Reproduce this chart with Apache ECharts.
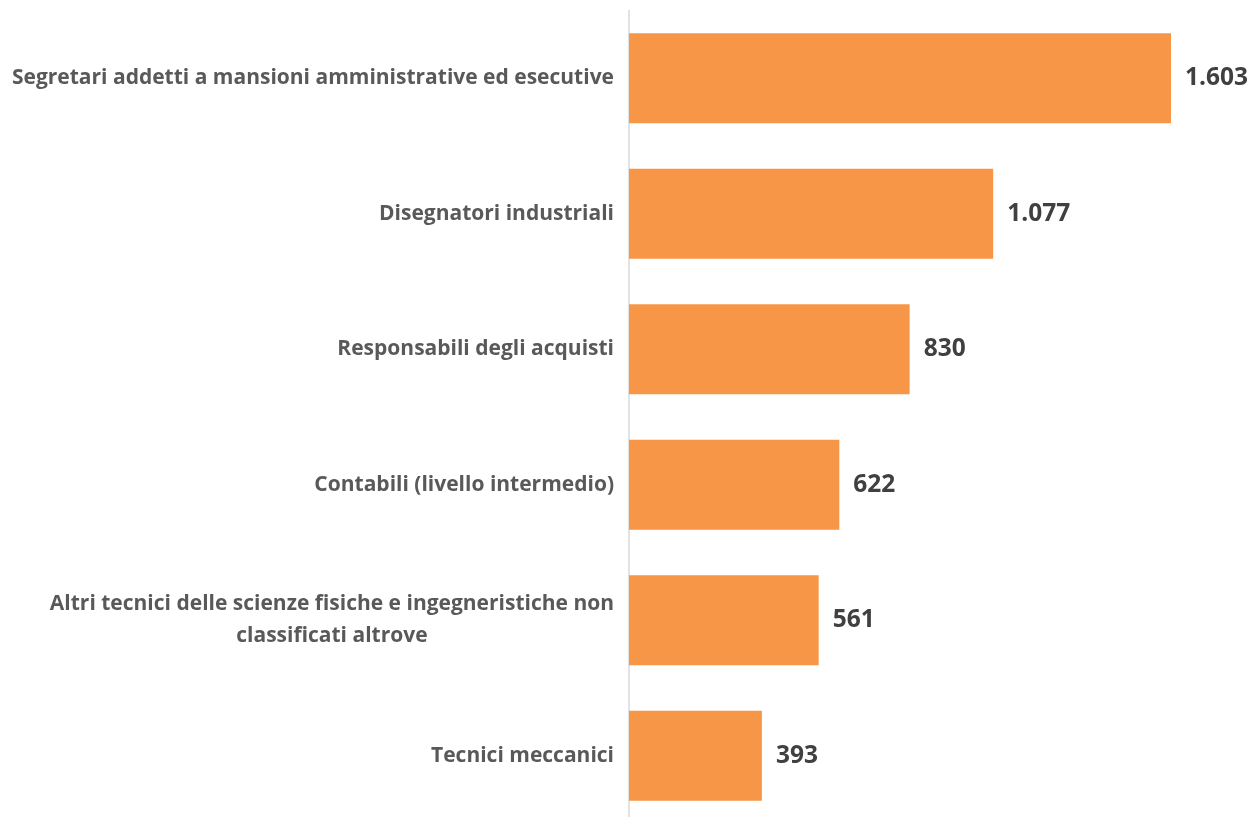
<!DOCTYPE html>
<html>
<head>
<meta charset="utf-8">
<script src="https://cdn.jsdelivr.net/npm/echarts@6/dist/echarts.min.js"></script>
<style>
html,body{margin:0;padding:0;background:#fff;overflow:hidden;}
#chart{width:1250px;height:830px;}
</style>
</head>
<body>
<div id="chart"></div>
<script>
const categories = [
  "Segretari addetti a mansioni amministrative ed esecutive",
  "Disegnatori industriali",
  "Responsabili degli acquisti",
  "Contabili (livello intermedio)",
  "Altri tecnici delle scienze fisiche e ingegneristiche non\nclassificati altrove",
  "Tecnici meccanici"
];
const values = [1603, 1077, 830, 622, 561, 393];

function fmt(v){ return String(v).replace(/\B(?=(\d{3})+(?!\d))/g, "."); }

const chart = echarts.init(document.getElementById('chart'));
chart.setOption({
  animation: false,
  backgroundColor: '#ffffff',
  grid: { left: 629, width: 542, top: 10.55, height: 813, containLabel: false },
  xAxis: {
    type: 'value', min: 0, max: 1603,
    show: false
  },
  yAxis: {
    type: 'category',
    data: categories,
    inverse: true,
    axisLine: { show: true, lineStyle: { color: '#d9d9d9', width: 1.5 } },
    axisTick: { show: false },
    splitLine: { show: false },
    axisLabel: {
      margin: 15,
      fontFamily: 'Open Sans',
      fontWeight: 'bold',
      fontSize: 21,
      color: '#595959',
      lineHeight: 32,
      formatter: function (v) {
        return v.split('\n').map(s => '{c|' + s + '}').join('\n');
      },
      rich: { c: { align: 'center', fontFamily: 'Open Sans', fontWeight: 'bold', fontSize: 21, color: '#595959', lineHeight: 32 } }
    }
  },
  series: [{
    type: 'bar',
    data: values,
    barWidth: 90,
    itemStyle: { color: '#f79646' },
    label: {
      show: true,
      position: 'right',
      distance: 14,
      fontFamily: 'Open Sans',
      fontWeight: 'bold',
      fontSize: 24.5,
      color: '#404040',
      formatter: p => fmt(p.value)
    }
  }]
});
</script>
</body>
</html>
